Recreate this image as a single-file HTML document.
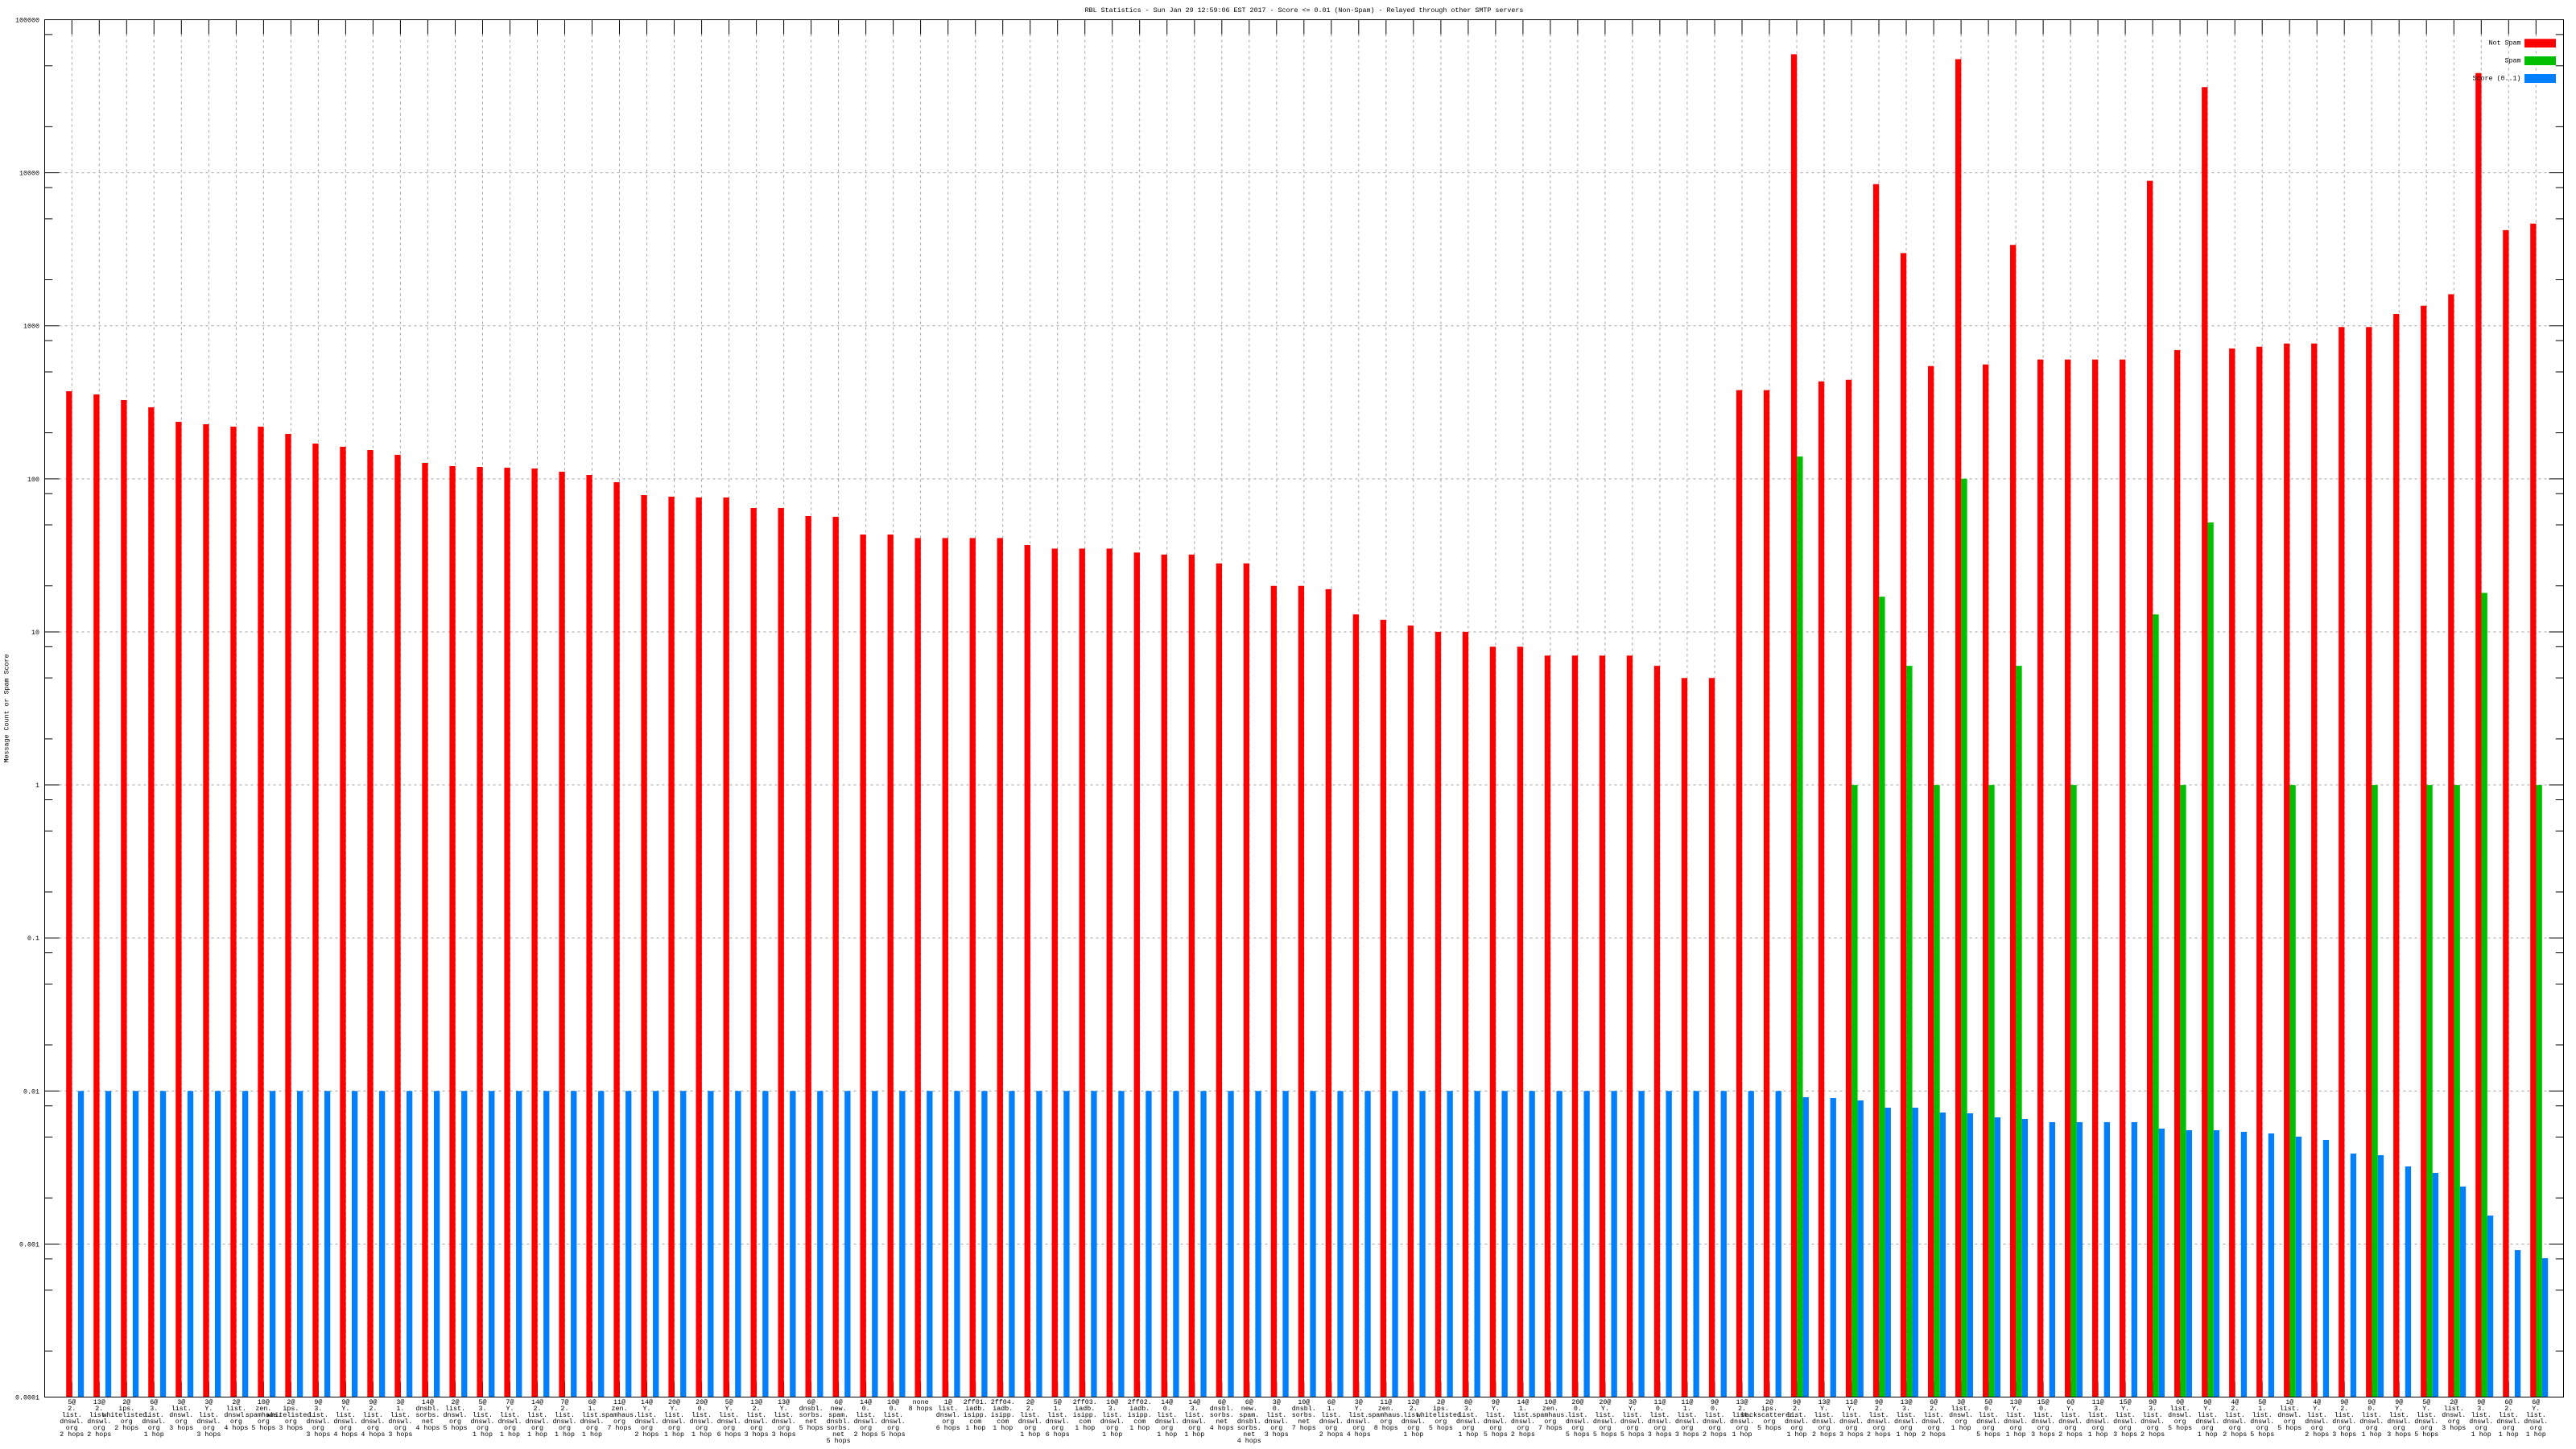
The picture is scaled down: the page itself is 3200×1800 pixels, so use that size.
<!DOCTYPE html>
<html><head><meta charset="utf-8"><style>
html,body{margin:0;padding:0;background:#fff}
svg{display:block}
text{font-family:"Liberation Mono",monospace;font-size:8.33px;fill:#000}
.l{text-anchor:middle}
.r{stroke:#ff0000;stroke-width:7.33px;fill:none}
.g{stroke:#00c000;stroke-width:7.33px;fill:none}
.b{stroke:#0080ff;stroke-width:7.33px;fill:none}
.gd{stroke:#a0a0a0;stroke-width:1px;stroke-dasharray:3 4;fill:none}
.k{stroke:#000;stroke-width:1px;fill:none}
</style></head><body>
<svg width="3200" height="1800" viewBox="0 0 3200 1800" xmlns="http://www.w3.org/2000/svg">
<defs><g id="t"><path class="gd" d="M0 42.5V1717"/><path class="k" d="M0 24.5v18M0 1735v-18"/></g></defs>
<rect width="3200" height="1800" fill="#fff"/>
<path class="gd" d="M73.5 214.61H3166.5M73.5 404.72H3166.5M73.5 594.83H3166.5M73.5 784.94H3166.5M73.5 975.06H3166.5M73.5 1165.17H3166.5M73.5 1355.28H3166.5M73.5 1545.39H3166.5"/>

<g transform="translate(89.3)"><use href="#t"/><path class="r" d="M-3.43 1735V486"/><path class="b" d="M11.23 1735V1355.3"/><text class="l" y="1744"><tspan x="0">5@</tspan><tspan x="0" dy="8">2.</tspan><tspan x="0" dy="8">list.</tspan><tspan x="0" dy="8">dnswl.</tspan><tspan x="0" dy="8">org</tspan><tspan x="0" dy="8">2 hops</tspan></text></g>
<g transform="translate(123.3)"><use href="#t"/><path class="r" d="M-3.43 1735V490"/><path class="b" d="M11.23 1735V1355.3"/><text class="l" y="1744"><tspan x="0">13@</tspan><tspan x="0" dy="8">2.</tspan><tspan x="0" dy="8">list.</tspan><tspan x="0" dy="8">dnswl.</tspan><tspan x="0" dy="8">org</tspan><tspan x="0" dy="8">2 hops</tspan></text></g>
<g transform="translate(157.3)"><use href="#t"/><path class="r" d="M-3.43 1735V497"/><path class="b" d="M11.23 1735V1355.3"/><text class="l" y="1744"><tspan x="0">2@</tspan><tspan x="0" dy="8">ips.</tspan><tspan x="0" dy="8">whitelisted.</tspan><tspan x="0" dy="8">org</tspan><tspan x="0" dy="8">2 hops</tspan></text></g>
<g transform="translate(191.3)"><use href="#t"/><path class="r" d="M-3.43 1735V506"/><path class="b" d="M11.23 1735V1355.3"/><text class="l" y="1744"><tspan x="0">6@</tspan><tspan x="0" dy="8">3.</tspan><tspan x="0" dy="8">list.</tspan><tspan x="0" dy="8">dnswl.</tspan><tspan x="0" dy="8">org</tspan><tspan x="0" dy="8">1 hop</tspan></text></g>
<g transform="translate(225.3)"><use href="#t"/><path class="r" d="M-3.43 1735V524"/><path class="b" d="M11.23 1735V1355.3"/><text class="l" y="1744"><tspan x="0">3@</tspan><tspan x="0" dy="8">list.</tspan><tspan x="0" dy="8">dnswl.</tspan><tspan x="0" dy="8">org</tspan><tspan x="0" dy="8">3 hops</tspan></text></g>
<g transform="translate(259.4)"><use href="#t"/><path class="r" d="M-3.43 1735V527"/><path class="b" d="M11.23 1735V1355.3"/><text class="l" y="1744"><tspan x="0">3@</tspan><tspan x="0" dy="8">Y.</tspan><tspan x="0" dy="8">list.</tspan><tspan x="0" dy="8">dnswl.</tspan><tspan x="0" dy="8">org</tspan><tspan x="0" dy="8">3 hops</tspan></text></g>
<g transform="translate(293.4)"><use href="#t"/><path class="r" d="M-3.43 1735V530"/><path class="b" d="M11.23 1735V1355.3"/><text class="l" y="1744"><tspan x="0">2@</tspan><tspan x="0" dy="8">list.</tspan><tspan x="0" dy="8">dnswl.</tspan><tspan x="0" dy="8">org</tspan><tspan x="0" dy="8">4 hops</tspan></text></g>
<g transform="translate(327.4)"><use href="#t"/><path class="r" d="M-3.43 1735V530"/><path class="b" d="M11.23 1735V1355.3"/><text class="l" y="1744"><tspan x="0">10@</tspan><tspan x="0" dy="8">zen.</tspan><tspan x="0" dy="8">spamhaus.</tspan><tspan x="0" dy="8">org</tspan><tspan x="0" dy="8">5 hops</tspan></text></g>
<g transform="translate(361.4)"><use href="#t"/><path class="r" d="M-3.43 1735V539"/><path class="b" d="M11.23 1735V1355.3"/><text class="l" y="1744"><tspan x="0">2@</tspan><tspan x="0" dy="8">ips.</tspan><tspan x="0" dy="8">whitelisted.</tspan><tspan x="0" dy="8">org</tspan><tspan x="0" dy="8">3 hops</tspan></text></g>
<g transform="translate(395.4)"><use href="#t"/><path class="r" d="M-3.43 1735V551"/><path class="b" d="M11.23 1735V1355.3"/><text class="l" y="1744"><tspan x="0">9@</tspan><tspan x="0" dy="8">3.</tspan><tspan x="0" dy="8">list.</tspan><tspan x="0" dy="8">dnswl.</tspan><tspan x="0" dy="8">org</tspan><tspan x="0" dy="8">3 hops</tspan></text></g>
<g transform="translate(429.4)"><use href="#t"/><path class="r" d="M-3.43 1735V555"/><path class="b" d="M11.23 1735V1355.3"/><text class="l" y="1744"><tspan x="0">9@</tspan><tspan x="0" dy="8">Y.</tspan><tspan x="0" dy="8">list.</tspan><tspan x="0" dy="8">dnswl.</tspan><tspan x="0" dy="8">org</tspan><tspan x="0" dy="8">4 hops</tspan></text></g>
<g transform="translate(463.4)"><use href="#t"/><path class="r" d="M-3.43 1735V559"/><path class="b" d="M11.23 1735V1355.3"/><text class="l" y="1744"><tspan x="0">9@</tspan><tspan x="0" dy="8">2.</tspan><tspan x="0" dy="8">list.</tspan><tspan x="0" dy="8">dnswl.</tspan><tspan x="0" dy="8">org</tspan><tspan x="0" dy="8">4 hops</tspan></text></g>
<g transform="translate(497.4)"><use href="#t"/><path class="r" d="M-3.43 1735V565"/><path class="b" d="M11.23 1735V1355.3"/><text class="l" y="1744"><tspan x="0">3@</tspan><tspan x="0" dy="8">1.</tspan><tspan x="0" dy="8">list.</tspan><tspan x="0" dy="8">dnswl.</tspan><tspan x="0" dy="8">org</tspan><tspan x="0" dy="8">3 hops</tspan></text></g>
<g transform="translate(531.4)"><use href="#t"/><path class="r" d="M-3.43 1735V575"/><path class="b" d="M11.23 1735V1355.3"/><text class="l" y="1744"><tspan x="0">14@</tspan><tspan x="0" dy="8">dnsbl.</tspan><tspan x="0" dy="8">sorbs.</tspan><tspan x="0" dy="8">net</tspan><tspan x="0" dy="8">4 hops</tspan></text></g>
<g transform="translate(565.5)"><use href="#t"/><path class="r" d="M-3.43 1735V579"/><path class="b" d="M11.23 1735V1355.3"/><text class="l" y="1744"><tspan x="0">2@</tspan><tspan x="0" dy="8">list.</tspan><tspan x="0" dy="8">dnswl.</tspan><tspan x="0" dy="8">org</tspan><tspan x="0" dy="8">5 hops</tspan></text></g>
<g transform="translate(599.5)"><use href="#t"/><path class="r" d="M-3.43 1735V580"/><path class="b" d="M11.23 1735V1355.3"/><text class="l" y="1744"><tspan x="0">5@</tspan><tspan x="0" dy="8">3.</tspan><tspan x="0" dy="8">list.</tspan><tspan x="0" dy="8">dnswl.</tspan><tspan x="0" dy="8">org</tspan><tspan x="0" dy="8">1 hop</tspan></text></g>
<g transform="translate(633.5)"><use href="#t"/><path class="r" d="M-3.43 1735V581"/><path class="b" d="M11.23 1735V1355.3"/><text class="l" y="1744"><tspan x="0">7@</tspan><tspan x="0" dy="8">Y.</tspan><tspan x="0" dy="8">list.</tspan><tspan x="0" dy="8">dnswl.</tspan><tspan x="0" dy="8">org</tspan><tspan x="0" dy="8">1 hop</tspan></text></g>
<g transform="translate(667.5)"><use href="#t"/><path class="r" d="M-3.43 1735V582"/><path class="b" d="M11.23 1735V1355.3"/><text class="l" y="1744"><tspan x="0">14@</tspan><tspan x="0" dy="8">2.</tspan><tspan x="0" dy="8">list.</tspan><tspan x="0" dy="8">dnswl.</tspan><tspan x="0" dy="8">org</tspan><tspan x="0" dy="8">1 hop</tspan></text></g>
<g transform="translate(701.5)"><use href="#t"/><path class="r" d="M-3.43 1735V586"/><path class="b" d="M11.23 1735V1355.3"/><text class="l" y="1744"><tspan x="0">7@</tspan><tspan x="0" dy="8">2.</tspan><tspan x="0" dy="8">list.</tspan><tspan x="0" dy="8">dnswl.</tspan><tspan x="0" dy="8">org</tspan><tspan x="0" dy="8">1 hop</tspan></text></g>
<g transform="translate(735.5)"><use href="#t"/><path class="r" d="M-3.43 1735V590"/><path class="b" d="M11.23 1735V1355.3"/><text class="l" y="1744"><tspan x="0">6@</tspan><tspan x="0" dy="8">1.</tspan><tspan x="0" dy="8">list.</tspan><tspan x="0" dy="8">dnswl.</tspan><tspan x="0" dy="8">org</tspan><tspan x="0" dy="8">1 hop</tspan></text></g>
<g transform="translate(769.5)"><use href="#t"/><path class="r" d="M-3.43 1735V599"/><path class="b" d="M11.23 1735V1355.3"/><text class="l" y="1744"><tspan x="0">11@</tspan><tspan x="0" dy="8">zen.</tspan><tspan x="0" dy="8">spamhaus.</tspan><tspan x="0" dy="8">org</tspan><tspan x="0" dy="8">7 hops</tspan></text></g>
<g transform="translate(803.5)"><use href="#t"/><path class="r" d="M-3.43 1735V615"/><path class="b" d="M11.23 1735V1355.3"/><text class="l" y="1744"><tspan x="0">14@</tspan><tspan x="0" dy="8">Y.</tspan><tspan x="0" dy="8">list.</tspan><tspan x="0" dy="8">dnswl.</tspan><tspan x="0" dy="8">org</tspan><tspan x="0" dy="8">2 hops</tspan></text></g>
<g transform="translate(837.5)"><use href="#t"/><path class="r" d="M-3.43 1735V617"/><path class="b" d="M11.23 1735V1355.3"/><text class="l" y="1744"><tspan x="0">20@</tspan><tspan x="0" dy="8">Y.</tspan><tspan x="0" dy="8">list.</tspan><tspan x="0" dy="8">dnswl.</tspan><tspan x="0" dy="8">org</tspan><tspan x="0" dy="8">1 hop</tspan></text></g>
<g transform="translate(871.6)"><use href="#t"/><path class="r" d="M-3.43 1735V618"/><path class="b" d="M11.23 1735V1355.3"/><text class="l" y="1744"><tspan x="0">20@</tspan><tspan x="0" dy="8">0.</tspan><tspan x="0" dy="8">list.</tspan><tspan x="0" dy="8">dnswl.</tspan><tspan x="0" dy="8">org</tspan><tspan x="0" dy="8">1 hop</tspan></text></g>
<g transform="translate(905.6)"><use href="#t"/><path class="r" d="M-3.43 1735V618"/><path class="b" d="M11.23 1735V1355.3"/><text class="l" y="1744"><tspan x="0">5@</tspan><tspan x="0" dy="8">Y.</tspan><tspan x="0" dy="8">list.</tspan><tspan x="0" dy="8">dnswl.</tspan><tspan x="0" dy="8">org</tspan><tspan x="0" dy="8">6 hops</tspan></text></g>
<g transform="translate(939.6)"><use href="#t"/><path class="r" d="M-3.43 1735V631"/><path class="b" d="M11.23 1735V1355.3"/><text class="l" y="1744"><tspan x="0">13@</tspan><tspan x="0" dy="8">2.</tspan><tspan x="0" dy="8">list.</tspan><tspan x="0" dy="8">dnswl.</tspan><tspan x="0" dy="8">org</tspan><tspan x="0" dy="8">3 hops</tspan></text></g>
<g transform="translate(973.6)"><use href="#t"/><path class="r" d="M-3.43 1735V631"/><path class="b" d="M11.23 1735V1355.3"/><text class="l" y="1744"><tspan x="0">13@</tspan><tspan x="0" dy="8">Y.</tspan><tspan x="0" dy="8">list.</tspan><tspan x="0" dy="8">dnswl.</tspan><tspan x="0" dy="8">org</tspan><tspan x="0" dy="8">3 hops</tspan></text></g>
<g transform="translate(1007.6)"><use href="#t"/><path class="r" d="M-3.43 1735V641"/><path class="b" d="M11.23 1735V1355.3"/><text class="l" y="1744"><tspan x="0">6@</tspan><tspan x="0" dy="8">dnsbl.</tspan><tspan x="0" dy="8">sorbs.</tspan><tspan x="0" dy="8">net</tspan><tspan x="0" dy="8">5 hops</tspan></text></g>
<g transform="translate(1041.6)"><use href="#t"/><path class="r" d="M-3.43 1735V642"/><path class="b" d="M11.23 1735V1355.3"/><text class="l" y="1744"><tspan x="0">6@</tspan><tspan x="0" dy="8">new.</tspan><tspan x="0" dy="8">spam.</tspan><tspan x="0" dy="8">dnsbl.</tspan><tspan x="0" dy="8">sorbs.</tspan><tspan x="0" dy="8">net</tspan><tspan x="0" dy="8">5 hops</tspan></text></g>
<g transform="translate(1075.6)"><use href="#t"/><path class="r" d="M-3.43 1735V664"/><path class="b" d="M11.23 1735V1355.3"/><text class="l" y="1744"><tspan x="0">14@</tspan><tspan x="0" dy="8">0.</tspan><tspan x="0" dy="8">list.</tspan><tspan x="0" dy="8">dnswl.</tspan><tspan x="0" dy="8">org</tspan><tspan x="0" dy="8">2 hops</tspan></text></g>
<g transform="translate(1109.6)"><use href="#t"/><path class="r" d="M-3.43 1735V664"/><path class="b" d="M11.23 1735V1355.3"/><text class="l" y="1744"><tspan x="0">10@</tspan><tspan x="0" dy="8">0.</tspan><tspan x="0" dy="8">list.</tspan><tspan x="0" dy="8">dnswl.</tspan><tspan x="0" dy="8">org</tspan><tspan x="0" dy="8">5 hops</tspan></text></g>
<g transform="translate(1143.6)"><use href="#t"/><path class="r" d="M-3.43 1735V668.4"/><path class="b" d="M11.23 1735V1355.3"/><text class="l" y="1744"><tspan x="0">none</tspan><tspan x="0" dy="8">8 hops</tspan></text></g>
<g transform="translate(1177.7)"><use href="#t"/><path class="r" d="M-3.43 1735V668.4"/><path class="b" d="M11.23 1735V1355.3"/><text class="l" y="1744"><tspan x="0">1@</tspan><tspan x="0" dy="8">list.</tspan><tspan x="0" dy="8">dnswl.</tspan><tspan x="0" dy="8">org</tspan><tspan x="0" dy="8">6 hops</tspan></text></g>
<g transform="translate(1211.7)"><use href="#t"/><path class="r" d="M-3.43 1735V668.4"/><path class="b" d="M11.23 1735V1355.3"/><text class="l" y="1744"><tspan x="0">2ff01.</tspan><tspan x="0" dy="8">iadb.</tspan><tspan x="0" dy="8">isipp.</tspan><tspan x="0" dy="8">com</tspan><tspan x="0" dy="8">1 hop</tspan></text></g>
<g transform="translate(1245.7)"><use href="#t"/><path class="r" d="M-3.43 1735V668.4"/><path class="b" d="M11.23 1735V1355.3"/><text class="l" y="1744"><tspan x="0">2ff04.</tspan><tspan x="0" dy="8">iadb.</tspan><tspan x="0" dy="8">isipp.</tspan><tspan x="0" dy="8">com</tspan><tspan x="0" dy="8">1 hop</tspan></text></g>
<g transform="translate(1279.7)"><use href="#t"/><path class="r" d="M-3.43 1735V677"/><path class="b" d="M11.23 1735V1355.3"/><text class="l" y="1744"><tspan x="0">2@</tspan><tspan x="0" dy="8">2.</tspan><tspan x="0" dy="8">list.</tspan><tspan x="0" dy="8">dnswl.</tspan><tspan x="0" dy="8">org</tspan><tspan x="0" dy="8">1 hop</tspan></text></g>
<g transform="translate(1313.7)"><use href="#t"/><path class="r" d="M-3.43 1735V681.5"/><path class="b" d="M11.23 1735V1355.3"/><text class="l" y="1744"><tspan x="0">5@</tspan><tspan x="0" dy="8">1.</tspan><tspan x="0" dy="8">list.</tspan><tspan x="0" dy="8">dnswl.</tspan><tspan x="0" dy="8">org</tspan><tspan x="0" dy="8">6 hops</tspan></text></g>
<g transform="translate(1347.7)"><use href="#t"/><path class="r" d="M-3.43 1735V681.5"/><path class="b" d="M11.23 1735V1355.3"/><text class="l" y="1744"><tspan x="0">2ff03.</tspan><tspan x="0" dy="8">iadb.</tspan><tspan x="0" dy="8">isipp.</tspan><tspan x="0" dy="8">com</tspan><tspan x="0" dy="8">1 hop</tspan></text></g>
<g transform="translate(1381.7)"><use href="#t"/><path class="r" d="M-3.43 1735V681.5"/><path class="b" d="M11.23 1735V1355.3"/><text class="l" y="1744"><tspan x="0">10@</tspan><tspan x="0" dy="8">3.</tspan><tspan x="0" dy="8">list.</tspan><tspan x="0" dy="8">dnswl.</tspan><tspan x="0" dy="8">org</tspan><tspan x="0" dy="8">1 hop</tspan></text></g>
<g transform="translate(1415.7)"><use href="#t"/><path class="r" d="M-3.43 1735V686.4"/><path class="b" d="M11.23 1735V1355.3"/><text class="l" y="1744"><tspan x="0">2ff02.</tspan><tspan x="0" dy="8">iadb.</tspan><tspan x="0" dy="8">isipp.</tspan><tspan x="0" dy="8">com</tspan><tspan x="0" dy="8">1 hop</tspan></text></g>
<g transform="translate(1449.7)"><use href="#t"/><path class="r" d="M-3.43 1735V688.9"/><path class="b" d="M11.23 1735V1355.3"/><text class="l" y="1744"><tspan x="0">14@</tspan><tspan x="0" dy="8">0.</tspan><tspan x="0" dy="8">list.</tspan><tspan x="0" dy="8">dnswl.</tspan><tspan x="0" dy="8">org</tspan><tspan x="0" dy="8">1 hop</tspan></text></g>
<g transform="translate(1483.8)"><use href="#t"/><path class="r" d="M-3.43 1735V688.9"/><path class="b" d="M11.23 1735V1355.3"/><text class="l" y="1744"><tspan x="0">14@</tspan><tspan x="0" dy="8">3.</tspan><tspan x="0" dy="8">list.</tspan><tspan x="0" dy="8">dnswl.</tspan><tspan x="0" dy="8">org</tspan><tspan x="0" dy="8">1 hop</tspan></text></g>
<g transform="translate(1517.8)"><use href="#t"/><path class="r" d="M-3.43 1735V699.9"/><path class="b" d="M11.23 1735V1355.3"/><text class="l" y="1744"><tspan x="0">6@</tspan><tspan x="0" dy="8">dnsbl.</tspan><tspan x="0" dy="8">sorbs.</tspan><tspan x="0" dy="8">net</tspan><tspan x="0" dy="8">4 hops</tspan></text></g>
<g transform="translate(1551.8)"><use href="#t"/><path class="r" d="M-3.43 1735V699.9"/><path class="b" d="M11.23 1735V1355.3"/><text class="l" y="1744"><tspan x="0">6@</tspan><tspan x="0" dy="8">new.</tspan><tspan x="0" dy="8">spam.</tspan><tspan x="0" dy="8">dnsbl.</tspan><tspan x="0" dy="8">sorbs.</tspan><tspan x="0" dy="8">net</tspan><tspan x="0" dy="8">4 hops</tspan></text></g>
<g transform="translate(1585.8)"><use href="#t"/><path class="r" d="M-3.43 1735V727.7"/><path class="b" d="M11.23 1735V1355.3"/><text class="l" y="1744"><tspan x="0">3@</tspan><tspan x="0" dy="8">0.</tspan><tspan x="0" dy="8">list.</tspan><tspan x="0" dy="8">dnswl.</tspan><tspan x="0" dy="8">org</tspan><tspan x="0" dy="8">3 hops</tspan></text></g>
<g transform="translate(1619.8)"><use href="#t"/><path class="r" d="M-3.43 1735V727.7"/><path class="b" d="M11.23 1735V1355.3"/><text class="l" y="1744"><tspan x="0">10@</tspan><tspan x="0" dy="8">dnsbl.</tspan><tspan x="0" dy="8">sorbs.</tspan><tspan x="0" dy="8">net</tspan><tspan x="0" dy="8">7 hops</tspan></text></g>
<g transform="translate(1653.8)"><use href="#t"/><path class="r" d="M-3.43 1735V731.9"/><path class="b" d="M11.23 1735V1355.3"/><text class="l" y="1744"><tspan x="0">6@</tspan><tspan x="0" dy="8">1.</tspan><tspan x="0" dy="8">list.</tspan><tspan x="0" dy="8">dnswl.</tspan><tspan x="0" dy="8">org</tspan><tspan x="0" dy="8">2 hops</tspan></text></g>
<g transform="translate(1687.8)"><use href="#t"/><path class="r" d="M-3.43 1735V763.3"/><path class="b" d="M11.23 1735V1355.3"/><text class="l" y="1744"><tspan x="0">3@</tspan><tspan x="0" dy="8">Y.</tspan><tspan x="0" dy="8">list.</tspan><tspan x="0" dy="8">dnswl.</tspan><tspan x="0" dy="8">org</tspan><tspan x="0" dy="8">4 hops</tspan></text></g>
<g transform="translate(1721.8)"><use href="#t"/><path class="r" d="M-3.43 1735V769.9"/><path class="b" d="M11.23 1735V1355.3"/><text class="l" y="1744"><tspan x="0">11@</tspan><tspan x="0" dy="8">zen.</tspan><tspan x="0" dy="8">spamhaus.</tspan><tspan x="0" dy="8">org</tspan><tspan x="0" dy="8">8 hops</tspan></text></g>
<g transform="translate(1755.8)"><use href="#t"/><path class="r" d="M-3.43 1735V777.1"/><path class="b" d="M11.23 1735V1355.3"/><text class="l" y="1744"><tspan x="0">12@</tspan><tspan x="0" dy="8">2.</tspan><tspan x="0" dy="8">list.</tspan><tspan x="0" dy="8">dnswl.</tspan><tspan x="0" dy="8">org</tspan><tspan x="0" dy="8">1 hop</tspan></text></g>
<g transform="translate(1789.9)"><use href="#t"/><path class="r" d="M-3.43 1735V784.9"/><path class="b" d="M11.23 1735V1355.3"/><text class="l" y="1744"><tspan x="0">2@</tspan><tspan x="0" dy="8">ips.</tspan><tspan x="0" dy="8">whitelisted.</tspan><tspan x="0" dy="8">org</tspan><tspan x="0" dy="8">5 hops</tspan></text></g>
<g transform="translate(1823.9)"><use href="#t"/><path class="r" d="M-3.43 1735V784.9"/><path class="b" d="M11.23 1735V1355.3"/><text class="l" y="1744"><tspan x="0">8@</tspan><tspan x="0" dy="8">3.</tspan><tspan x="0" dy="8">list.</tspan><tspan x="0" dy="8">dnswl.</tspan><tspan x="0" dy="8">org</tspan><tspan x="0" dy="8">1 hop</tspan></text></g>
<g transform="translate(1857.9)"><use href="#t"/><path class="r" d="M-3.43 1735V803.4"/><path class="b" d="M11.23 1735V1355.3"/><text class="l" y="1744"><tspan x="0">9@</tspan><tspan x="0" dy="8">Y.</tspan><tspan x="0" dy="8">list.</tspan><tspan x="0" dy="8">dnswl.</tspan><tspan x="0" dy="8">org</tspan><tspan x="0" dy="8">5 hops</tspan></text></g>
<g transform="translate(1891.9)"><use href="#t"/><path class="r" d="M-3.43 1735V803.4"/><path class="b" d="M11.23 1735V1355.3"/><text class="l" y="1744"><tspan x="0">14@</tspan><tspan x="0" dy="8">1.</tspan><tspan x="0" dy="8">list.</tspan><tspan x="0" dy="8">dnswl.</tspan><tspan x="0" dy="8">org</tspan><tspan x="0" dy="8">2 hops</tspan></text></g>
<g transform="translate(1925.9)"><use href="#t"/><path class="r" d="M-3.43 1735V814.4"/><path class="b" d="M11.23 1735V1355.3"/><text class="l" y="1744"><tspan x="0">10@</tspan><tspan x="0" dy="8">zen.</tspan><tspan x="0" dy="8">spamhaus.</tspan><tspan x="0" dy="8">org</tspan><tspan x="0" dy="8">7 hops</tspan></text></g>
<g transform="translate(1959.9)"><use href="#t"/><path class="r" d="M-3.43 1735V814.4"/><path class="b" d="M11.23 1735V1355.3"/><text class="l" y="1744"><tspan x="0">20@</tspan><tspan x="0" dy="8">0.</tspan><tspan x="0" dy="8">list.</tspan><tspan x="0" dy="8">dnswl.</tspan><tspan x="0" dy="8">org</tspan><tspan x="0" dy="8">5 hops</tspan></text></g>
<g transform="translate(1993.9)"><use href="#t"/><path class="r" d="M-3.43 1735V814.4"/><path class="b" d="M11.23 1735V1355.3"/><text class="l" y="1744"><tspan x="0">20@</tspan><tspan x="0" dy="8">Y.</tspan><tspan x="0" dy="8">list.</tspan><tspan x="0" dy="8">dnswl.</tspan><tspan x="0" dy="8">org</tspan><tspan x="0" dy="8">5 hops</tspan></text></g>
<g transform="translate(2027.9)"><use href="#t"/><path class="r" d="M-3.43 1735V814.4"/><path class="b" d="M11.23 1735V1355.3"/><text class="l" y="1744"><tspan x="0">3@</tspan><tspan x="0" dy="8">Y.</tspan><tspan x="0" dy="8">list.</tspan><tspan x="0" dy="8">dnswl.</tspan><tspan x="0" dy="8">org</tspan><tspan x="0" dy="8">5 hops</tspan></text></g>
<g transform="translate(2061.9)"><use href="#t"/><path class="r" d="M-3.43 1735V827.1"/><path class="b" d="M11.23 1735V1355.3"/><text class="l" y="1744"><tspan x="0">11@</tspan><tspan x="0" dy="8">0.</tspan><tspan x="0" dy="8">list.</tspan><tspan x="0" dy="8">dnswl.</tspan><tspan x="0" dy="8">org</tspan><tspan x="0" dy="8">3 hops</tspan></text></g>
<g transform="translate(2095.9)"><use href="#t"/><path class="r" d="M-3.43 1735V842.2"/><path class="b" d="M11.23 1735V1355.3"/><text class="l" y="1744"><tspan x="0">11@</tspan><tspan x="0" dy="8">1.</tspan><tspan x="0" dy="8">list.</tspan><tspan x="0" dy="8">dnswl.</tspan><tspan x="0" dy="8">org</tspan><tspan x="0" dy="8">3 hops</tspan></text></g>
<g transform="translate(2130)"><use href="#t"/><path class="r" d="M-3.43 1735V842.2"/><path class="b" d="M11.23 1735V1355.3"/><text class="l" y="1744"><tspan x="0">9@</tspan><tspan x="0" dy="8">0.</tspan><tspan x="0" dy="8">list.</tspan><tspan x="0" dy="8">dnswl.</tspan><tspan x="0" dy="8">org</tspan><tspan x="0" dy="8">2 hops</tspan></text></g>
<g transform="translate(2164)"><use href="#t"/><path class="r" d="M-3.43 1735V484.6"/><path class="b" d="M11.23 1735V1355.3"/><text class="l" y="1744"><tspan x="0">13@</tspan><tspan x="0" dy="8">2.</tspan><tspan x="0" dy="8">list.</tspan><tspan x="0" dy="8">dnswl.</tspan><tspan x="0" dy="8">org</tspan><tspan x="0" dy="8">1 hop</tspan></text></g>
<g transform="translate(2198)"><use href="#t"/><path class="r" d="M-3.43 1735V484.6"/><path class="b" d="M11.23 1735V1355.3"/><text class="l" y="1744"><tspan x="0">2@</tspan><tspan x="0" dy="8">ips.</tspan><tspan x="0" dy="8">backscatterer.</tspan><tspan x="0" dy="8">org</tspan><tspan x="0" dy="8">5 hops</tspan></text></g>
<g transform="translate(2232)"><use href="#t"/><path class="r" d="M-3.43 1735V67.4"/><path class="g" d="M3.9 1735V567.1"/><path class="b" d="M11.23 1735V1363"/><text class="l" y="1744"><tspan x="0">9@</tspan><tspan x="0" dy="8">2.</tspan><tspan x="0" dy="8">list.</tspan><tspan x="0" dy="8">dnswl.</tspan><tspan x="0" dy="8">org</tspan><tspan x="0" dy="8">1 hop</tspan></text></g>
<g transform="translate(2266)"><use href="#t"/><path class="r" d="M-3.43 1735V473.7"/><path class="b" d="M11.23 1735V1364"/><text class="l" y="1744"><tspan x="0">13@</tspan><tspan x="0" dy="8">Y.</tspan><tspan x="0" dy="8">list.</tspan><tspan x="0" dy="8">dnswl.</tspan><tspan x="0" dy="8">org</tspan><tspan x="0" dy="8">2 hops</tspan></text></g>
<g transform="translate(2300)"><use href="#t"/><path class="r" d="M-3.43 1735V471.7"/><path class="g" d="M3.9 1735V975.1"/><path class="b" d="M11.23 1735V1367"/><text class="l" y="1744"><tspan x="0">11@</tspan><tspan x="0" dy="8">Y.</tspan><tspan x="0" dy="8">list.</tspan><tspan x="0" dy="8">dnswl.</tspan><tspan x="0" dy="8">org</tspan><tspan x="0" dy="8">3 hops</tspan></text></g>
<g transform="translate(2334)"><use href="#t"/><path class="r" d="M-3.43 1735V228.7"/><path class="g" d="M3.9 1735V741.2"/><path class="b" d="M11.23 1735V1376"/><text class="l" y="1744"><tspan x="0">9@</tspan><tspan x="0" dy="8">2.</tspan><tspan x="0" dy="8">list.</tspan><tspan x="0" dy="8">dnswl.</tspan><tspan x="0" dy="8">org</tspan><tspan x="0" dy="8">2 hops</tspan></text></g>
<g transform="translate(2368)"><use href="#t"/><path class="r" d="M-3.43 1735V314.4"/><path class="g" d="M3.9 1735V827.1"/><path class="b" d="M11.23 1735V1376"/><text class="l" y="1744"><tspan x="0">13@</tspan><tspan x="0" dy="8">3.</tspan><tspan x="0" dy="8">list.</tspan><tspan x="0" dy="8">dnswl.</tspan><tspan x="0" dy="8">org</tspan><tspan x="0" dy="8">1 hop</tspan></text></g>
<g transform="translate(2402.1)"><use href="#t"/><path class="r" d="M-3.43 1735V454.8"/><path class="g" d="M3.9 1735V975.1"/><path class="b" d="M11.23 1735V1382"/><text class="l" y="1744"><tspan x="0">6@</tspan><tspan x="0" dy="8">2.</tspan><tspan x="0" dy="8">list.</tspan><tspan x="0" dy="8">dnswl.</tspan><tspan x="0" dy="8">org</tspan><tspan x="0" dy="8">2 hops</tspan></text></g>
<g transform="translate(2436.1)"><use href="#t"/><path class="r" d="M-3.43 1735V73.5"/><path class="g" d="M3.9 1735V594.8"/><path class="b" d="M11.23 1735V1383"/><text class="l" y="1744"><tspan x="0">3@</tspan><tspan x="0" dy="8">list.</tspan><tspan x="0" dy="8">dnswl.</tspan><tspan x="0" dy="8">org</tspan><tspan x="0" dy="8">1 hop</tspan></text></g>
<g transform="translate(2470.1)"><use href="#t"/><path class="r" d="M-3.43 1735V452.8"/><path class="g" d="M3.9 1735V975.1"/><path class="b" d="M11.23 1735V1388"/><text class="l" y="1744"><tspan x="0">5@</tspan><tspan x="0" dy="8">0.</tspan><tspan x="0" dy="8">list.</tspan><tspan x="0" dy="8">dnswl.</tspan><tspan x="0" dy="8">org</tspan><tspan x="0" dy="8">5 hops</tspan></text></g>
<g transform="translate(2504.1)"><use href="#t"/><path class="r" d="M-3.43 1735V304.2"/><path class="g" d="M3.9 1735V827.1"/><path class="b" d="M11.23 1735V1390"/><text class="l" y="1744"><tspan x="0">13@</tspan><tspan x="0" dy="8">Y.</tspan><tspan x="0" dy="8">list.</tspan><tspan x="0" dy="8">dnswl.</tspan><tspan x="0" dy="8">org</tspan><tspan x="0" dy="8">1 hop</tspan></text></g>
<g transform="translate(2538.1)"><use href="#t"/><path class="r" d="M-3.43 1735V446.6"/><path class="b" d="M11.23 1735V1394"/><text class="l" y="1744"><tspan x="0">15@</tspan><tspan x="0" dy="8">0.</tspan><tspan x="0" dy="8">list.</tspan><tspan x="0" dy="8">dnswl.</tspan><tspan x="0" dy="8">org</tspan><tspan x="0" dy="8">3 hops</tspan></text></g>
<g transform="translate(2572.1)"><use href="#t"/><path class="r" d="M-3.43 1735V446.6"/><path class="g" d="M3.9 1735V975.1"/><path class="b" d="M11.23 1735V1394"/><text class="l" y="1744"><tspan x="0">6@</tspan><tspan x="0" dy="8">Y.</tspan><tspan x="0" dy="8">list.</tspan><tspan x="0" dy="8">dnswl.</tspan><tspan x="0" dy="8">org</tspan><tspan x="0" dy="8">2 hops</tspan></text></g>
<g transform="translate(2606.1)"><use href="#t"/><path class="r" d="M-3.43 1735V446.6"/><path class="b" d="M11.23 1735V1394"/><text class="l" y="1744"><tspan x="0">11@</tspan><tspan x="0" dy="8">3.</tspan><tspan x="0" dy="8">list.</tspan><tspan x="0" dy="8">dnswl.</tspan><tspan x="0" dy="8">org</tspan><tspan x="0" dy="8">1 hop</tspan></text></g>
<g transform="translate(2640.1)"><use href="#t"/><path class="r" d="M-3.43 1735V446.6"/><path class="b" d="M11.23 1735V1394"/><text class="l" y="1744"><tspan x="0">15@</tspan><tspan x="0" dy="8">Y.</tspan><tspan x="0" dy="8">list.</tspan><tspan x="0" dy="8">dnswl.</tspan><tspan x="0" dy="8">org</tspan><tspan x="0" dy="8">3 hops</tspan></text></g>
<g transform="translate(2674.1)"><use href="#t"/><path class="r" d="M-3.43 1735V224.6"/><path class="g" d="M3.9 1735V763.3"/><path class="b" d="M11.23 1735V1402"/><text class="l" y="1744"><tspan x="0">9@</tspan><tspan x="0" dy="8">3.</tspan><tspan x="0" dy="8">list.</tspan><tspan x="0" dy="8">dnswl.</tspan><tspan x="0" dy="8">org</tspan><tspan x="0" dy="8">2 hops</tspan></text></g>
<g transform="translate(2708.1)"><use href="#t"/><path class="r" d="M-3.43 1735V434.9"/><path class="g" d="M3.9 1735V975.1"/><path class="b" d="M11.23 1735V1404"/><text class="l" y="1744"><tspan x="0">0@</tspan><tspan x="0" dy="8">list.</tspan><tspan x="0" dy="8">dnswl.</tspan><tspan x="0" dy="8">org</tspan><tspan x="0" dy="8">5 hops</tspan></text></g>
<g transform="translate(2742.2)"><use href="#t"/><path class="r" d="M-3.43 1735V108.2"/><path class="g" d="M3.9 1735V649"/><path class="b" d="M11.23 1735V1404"/><text class="l" y="1744"><tspan x="0">9@</tspan><tspan x="0" dy="8">Y.</tspan><tspan x="0" dy="8">list.</tspan><tspan x="0" dy="8">dnswl.</tspan><tspan x="0" dy="8">org</tspan><tspan x="0" dy="8">1 hop</tspan></text></g>
<g transform="translate(2776.2)"><use href="#t"/><path class="r" d="M-3.43 1735V432.9"/><path class="b" d="M11.23 1735V1406"/><text class="l" y="1744"><tspan x="0">4@</tspan><tspan x="0" dy="8">2.</tspan><tspan x="0" dy="8">list.</tspan><tspan x="0" dy="8">dnswl.</tspan><tspan x="0" dy="8">org</tspan><tspan x="0" dy="8">2 hops</tspan></text></g>
<g transform="translate(2810.2)"><use href="#t"/><path class="r" d="M-3.43 1735V430.8"/><path class="b" d="M11.23 1735V1408"/><text class="l" y="1744"><tspan x="0">5@</tspan><tspan x="0" dy="8">1.</tspan><tspan x="0" dy="8">list.</tspan><tspan x="0" dy="8">dnswl.</tspan><tspan x="0" dy="8">org</tspan><tspan x="0" dy="8">5 hops</tspan></text></g>
<g transform="translate(2844.2)"><use href="#t"/><path class="r" d="M-3.43 1735V426.7"/><path class="g" d="M3.9 1735V975.1"/><path class="b" d="M11.23 1735V1412"/><text class="l" y="1744"><tspan x="0">1@</tspan><tspan x="0" dy="8">list.</tspan><tspan x="0" dy="8">dnswl.</tspan><tspan x="0" dy="8">org</tspan><tspan x="0" dy="8">5 hops</tspan></text></g>
<g transform="translate(2878.2)"><use href="#t"/><path class="r" d="M-3.43 1735V426.7"/><path class="b" d="M11.23 1735V1416"/><text class="l" y="1744"><tspan x="0">4@</tspan><tspan x="0" dy="8">Y.</tspan><tspan x="0" dy="8">list.</tspan><tspan x="0" dy="8">dnswl.</tspan><tspan x="0" dy="8">org</tspan><tspan x="0" dy="8">2 hops</tspan></text></g>
<g transform="translate(2912.2)"><use href="#t"/><path class="r" d="M-3.43 1735V406.3"/><path class="b" d="M11.23 1735V1433"/><text class="l" y="1744"><tspan x="0">9@</tspan><tspan x="0" dy="8">2.</tspan><tspan x="0" dy="8">list.</tspan><tspan x="0" dy="8">dnswl.</tspan><tspan x="0" dy="8">org</tspan><tspan x="0" dy="8">3 hops</tspan></text></g>
<g transform="translate(2946.2)"><use href="#t"/><path class="r" d="M-3.43 1735V406.3"/><path class="g" d="M3.9 1735V975.1"/><path class="b" d="M11.23 1735V1435"/><text class="l" y="1744"><tspan x="0">9@</tspan><tspan x="0" dy="8">0.</tspan><tspan x="0" dy="8">list.</tspan><tspan x="0" dy="8">dnswl.</tspan><tspan x="0" dy="8">org</tspan><tspan x="0" dy="8">1 hop</tspan></text></g>
<g transform="translate(2980.2)"><use href="#t"/><path class="r" d="M-3.43 1735V390"/><path class="b" d="M11.23 1735V1449"/><text class="l" y="1744"><tspan x="0">9@</tspan><tspan x="0" dy="8">Y.</tspan><tspan x="0" dy="8">list.</tspan><tspan x="0" dy="8">dnswl.</tspan><tspan x="0" dy="8">org</tspan><tspan x="0" dy="8">3 hops</tspan></text></g>
<g transform="translate(3014.2)"><use href="#t"/><path class="r" d="M-3.43 1735V379.8"/><path class="g" d="M3.9 1735V975.1"/><path class="b" d="M11.23 1735V1457"/><text class="l" y="1744"><tspan x="0">5@</tspan><tspan x="0" dy="8">Y.</tspan><tspan x="0" dy="8">list.</tspan><tspan x="0" dy="8">dnswl.</tspan><tspan x="0" dy="8">org</tspan><tspan x="0" dy="8">5 hops</tspan></text></g>
<g transform="translate(3048.3)"><use href="#t"/><path class="r" d="M-3.43 1735V365.5"/><path class="g" d="M3.9 1735V975.1"/><path class="b" d="M11.23 1735V1474"/><text class="l" y="1744"><tspan x="0">2@</tspan><tspan x="0" dy="8">list.</tspan><tspan x="0" dy="8">dnswl.</tspan><tspan x="0" dy="8">org</tspan><tspan x="0" dy="8">3 hops</tspan></text></g>
<g transform="translate(3082.3)"><use href="#t"/><path class="r" d="M-3.43 1735V90.7"/><path class="g" d="M3.9 1735V736.5"/><path class="b" d="M11.23 1735V1510"/><text class="l" y="1744"><tspan x="0">9@</tspan><tspan x="0" dy="8">3.</tspan><tspan x="0" dy="8">list.</tspan><tspan x="0" dy="8">dnswl.</tspan><tspan x="0" dy="8">org</tspan><tspan x="0" dy="8">1 hop</tspan></text></g>
<g transform="translate(3116.3)"><use href="#t"/><path class="r" d="M-3.43 1735V285.9"/><path class="b" d="M11.23 1735V1553"/><text class="l" y="1744"><tspan x="0">6@</tspan><tspan x="0" dy="8">2.</tspan><tspan x="0" dy="8">list.</tspan><tspan x="0" dy="8">dnswl.</tspan><tspan x="0" dy="8">org</tspan><tspan x="0" dy="8">1 hop</tspan></text></g>
<g transform="translate(3150.3)"><use href="#t"/><path class="r" d="M-3.43 1735V277.7"/><path class="g" d="M3.9 1735V975.1"/><path class="b" d="M11.23 1735V1563"/><text class="l" y="1744"><tspan x="0">6@</tspan><tspan x="0" dy="8">Y.</tspan><tspan x="0" dy="8">list.</tspan><tspan x="0" dy="8">dnswl.</tspan><tspan x="0" dy="8">org</tspan><tspan x="0" dy="8">1 hop</tspan></text></g>

<path class="k" d="M55.5 24.5h18M3184.5 24.5h-18M55.5 214.61h18M3184.5 214.61h-18M55.5 404.72h18M3184.5 404.72h-18M55.5 594.83h18M3184.5 594.83h-18M55.5 784.94h18M3184.5 784.94h-18M55.5 975.06h18M3184.5 975.06h-18M55.5 1165.17h18M3184.5 1165.17h-18M55.5 1355.28h18M3184.5 1355.28h-18M55.5 1545.39h18M3184.5 1545.39h-18M55.5 1735.5h18M3184.5 1735.5h-18"/>
<path class="k" d="M55.5 1678.27h9.7M3184.5 1678.27h-9.7M55.5 1602.61h9.7M3184.5 1602.61h-9.7M55.5 1563.82h9.7M3184.5 1563.82h-9.7M55.5 1488.16h9.7M3184.5 1488.16h-9.7M55.5 1412.5h9.7M3184.5 1412.5h-9.7M55.5 1373.71h9.7M3184.5 1373.71h-9.7M55.5 1298.05h9.7M3184.5 1298.05h-9.7M55.5 1222.39h9.7M3184.5 1222.39h-9.7M55.5 1183.6h9.7M3184.5 1183.6h-9.7M55.5 1107.94h9.7M3184.5 1107.94h-9.7M55.5 1032.28h9.7M3184.5 1032.28h-9.7M55.5 993.49h9.7M3184.5 993.49h-9.7M55.5 917.83h9.7M3184.5 917.83h-9.7M55.5 842.17h9.7M3184.5 842.17h-9.7M55.5 803.38h9.7M3184.5 803.38h-9.7M55.5 727.71h9.7M3184.5 727.71h-9.7M55.5 652.05h9.7M3184.5 652.05h-9.7M55.5 613.26h9.7M3184.5 613.26h-9.7M55.5 537.6h9.7M3184.5 537.6h-9.7M55.5 461.94h9.7M3184.5 461.94h-9.7M55.5 423.15h9.7M3184.5 423.15h-9.7M55.5 347.49h9.7M3184.5 347.49h-9.7M55.5 271.83h9.7M3184.5 271.83h-9.7M55.5 233.04h9.7M3184.5 233.04h-9.7M55.5 157.38h9.7M3184.5 157.38h-9.7M55.5 81.72h9.7M3184.5 81.72h-9.7M55.5 42.93h9.7M3184.5 42.93h-9.7"/>
<rect class="k" x="55.5" y="24.5" width="3129" height="1711"/>

<g text-anchor="end">
<text x="49" y="27.5">100000</text>
<text x="49" y="217.6">10000</text>
<text x="49" y="407.7">1000</text>
<text x="49" y="597.8">100</text>
<text x="49" y="787.9">10</text>
<text x="49" y="978.1">1</text>
<text x="49" y="1168.2">0.1</text>
<text x="49" y="1358.3">0.01</text>
<text x="49" y="1548.4">0.001</text>
<text x="49" y="1738.5">0.0001</text>
</g>

<text x="1620" y="15" text-anchor="middle">RBL Statistics - Sun Jan 29 12:59:06 EST 2017 - Score &lt;= 0.01 (Non-Spam) - Relayed through other SMTP servers</text>
<text transform="translate(10.5 880) rotate(-90)" text-anchor="middle">Message Count or Spam Score</text>

<text x="3131.5" y="55.5" text-anchor="end">Not Spam</text>
<rect x="3136" y="48.3" width="39" height="10.7" fill="#ff0000"/>
<text x="3131.5" y="77.5" text-anchor="end">Spam</text>
<rect x="3136" y="70" width="39" height="11" fill="#00c000"/>
<text x="3131.5" y="99.5" text-anchor="end">Score (0..1)</text>
<rect x="3136" y="92" width="39" height="11" fill="#0080ff"/>
</svg>
</body></html>
